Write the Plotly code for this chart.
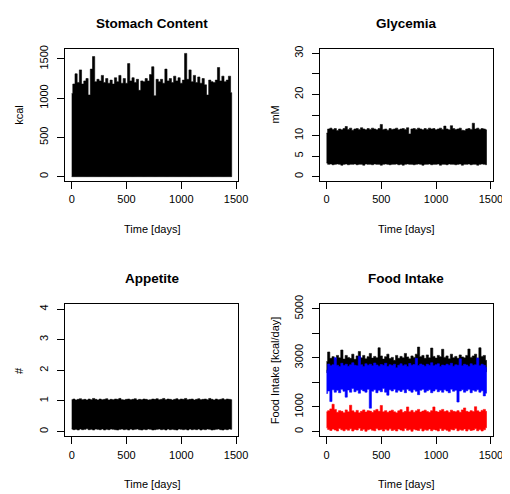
import plotly.graph_objects as go

# ---------------- data (envelopes, 20-day bins) -------------
DAYS = [0, 20, 40, 60, 80, 100, 120, 140, 160, 180, 200, 220, 240, 260, 280, 300, 320, 340,
        360, 380, 400, 420, 440, 460, 480, 500, 520, 540, 560, 580, 600, 620, 640, 660, 680,
        700, 720, 740, 760, 780, 800, 820, 840, 860, 880, 900, 920, 940, 960, 980, 1000,
        1020, 1040, 1060, 1080, 1100, 1120, 1140, 1160, 1180, 1200, 1220, 1240, 1260, 1280,
        1300, 1320, 1340, 1360, 1380, 1400, 1420, 1440, 1460]

STOMACH_HIGH = [1060, 1180, 1310, 1200, 1360, 1180, 1220, 1250, 1040, 1370,
                1530, 1210, 1240, 1220, 1290, 1200, 1250, 1190, 1230, 1180,
                1260, 1210, 1290, 1190, 1250, 1190, 1440, 1220, 1260, 1200,
                1240, 1100, 1220, 1210, 1250, 1220, 1300, 1400, 1030, 1240,
                1210, 1240, 1190, 1370, 1220, 1250, 1200, 1280, 1220, 1260,
                1190, 1230, 1570, 1240, 1360, 1210, 1290, 1200, 1270, 1190,
                1250, 1170, 1040, 1230, 1210, 1200, 1230, 1390, 1220, 1280,
                1210, 1230, 1280, 1070]

GLY_HIGH = [10.6, 11.6, 11.8, 11.5, 11.7, 11.2, 11.6, 11.4, 11.7, 12.2,
            11.5, 11.8, 11.3, 11.6, 11.7, 11.5, 11.9, 11.6, 11.4, 11.7,
            11.5, 11.8, 11.6, 11.4, 11.7, 12.7, 11.5, 11.6, 11.3, 11.7,
            11.5, 11.6, 11.8, 11.4, 11.6, 11.7, 11.5, 11.9, 10.4, 11.6,
            11.7, 11.5, 11.8, 11.6, 11.4, 11.7, 11.5, 11.8, 11.6, 11.7,
            11.4, 11.6, 11.8, 11.5, 12.3, 11.6, 11.4, 12.4, 11.7, 11.5,
            11.6, 11.8, 11.3, 11.2, 11.6, 11.7, 11.5, 13.0, 11.6, 11.8,
            11.5, 11.7, 11.6, 11.4]
GLY_LOW = [3.3, 3.0, 3.1, 2.9, 3.0, 3.1, 3.0, 2.8, 3.0, 3.1,
           2.9, 3.0, 3.0, 3.1, 2.9, 3.0, 3.0, 2.8, 3.1, 3.0,
           3.0, 2.9, 3.1, 3.0, 3.0, 2.8, 3.0, 3.1, 3.0, 2.9,
           3.0, 3.0, 3.1, 2.9, 3.0, 2.8, 3.0, 3.1, 3.0, 3.0,
           2.9, 3.0, 3.1, 3.0, 2.8, 3.0, 3.0, 3.1, 2.9, 3.0,
           3.0, 3.1, 2.8, 3.0, 3.0, 2.9, 3.1, 3.0, 3.0, 2.9,
           3.0, 3.1, 2.8, 3.0, 3.0, 3.1, 2.9, 3.0, 3.0, 2.8,
           3.0, 3.1, 3.0, 2.9]

APP_HIGH = [1.04, 1.06, 1.03, 1.05, 1.07, 1.04, 1.05, 1.03, 1.06, 1.04,
            1.08, 1.05, 1.03, 1.06, 1.04, 1.05, 1.07, 1.03, 1.05, 1.04,
            1.06, 1.05, 1.08, 1.04, 1.03, 1.05, 1.06, 1.04, 1.05, 1.07,
            1.03, 1.05, 1.04, 1.06, 1.05, 1.03, 1.04, 1.06, 1.05, 1.07,
            1.04, 1.05, 1.08, 1.04, 1.06, 1.05, 1.03, 1.05, 1.07, 1.04,
            1.06, 1.05, 1.08, 1.04, 1.05, 1.06, 1.03, 1.05, 1.07, 1.04,
            1.05, 1.06, 1.04, 1.08, 1.05, 1.03, 1.06, 1.04, 1.05, 1.07,
            1.04, 1.06, 1.05, 1.04]
APP_LOW = [0.08, 0.06, 0.07, 0.05, 0.08, 0.06, 0.07, 0.09, 0.06, 0.07,
           0.05, 0.08, 0.07, 0.06, 0.08, 0.05, 0.07, 0.06, 0.08, 0.07,
           0.06, 0.05, 0.07, 0.08, 0.06, 0.07, 0.05, 0.08, 0.06, 0.07,
           0.08, 0.06, 0.05, 0.07, 0.06, 0.08, 0.07, 0.05, 0.06, 0.07,
           0.08, 0.06, 0.07, 0.05, 0.08, 0.06, 0.07, 0.06, 0.05, 0.08,
           0.07, 0.06, 0.07, 0.05, 0.08, 0.06, 0.07, 0.06, 0.08, 0.05,
           0.07, 0.06, 0.08, 0.07, 0.05, 0.06, 0.07, 0.08, 0.06, 0.05,
           0.07, 0.06, 0.08, 0.07]

TOTAL_HIGH = [2850, 3240, 2980, 3050, 2950, 3100, 3000, 3320, 2950, 3100,
              3020, 2980, 3150, 2940, 3080, 3260, 3000, 3100, 2960, 3050,
              3180, 2990, 3060, 3000, 3410, 3080, 2950, 3050, 3150, 2970,
              3020, 2900, 3100, 2980, 3060, 3000, 3180, 3040, 2960, 3080,
              3020, 3150, 3440, 3050, 3100, 2980, 3120, 3000, 3400, 3060,
              2990, 3100, 3050, 3350, 3020, 3080, 2960, 3150, 3000, 3060,
              2980, 3120, 3040, 3000, 3100, 3360, 3020, 3080, 3150, 2990,
              3410, 3060, 3100, 2900]
TOTAL_LOW = [2400, 2450, 2420, 2380, 2460, 2410, 2440, 2390, 2450, 2420,
             2400, 2460, 2430, 2380, 2440, 2410, 2450, 2400, 2430, 2460,
             2390, 2420, 2450, 2410, 2440, 2380, 2430, 2460, 2400, 2420,
             2450, 2390, 2430, 2410, 2460, 2400, 2440, 2420, 2380, 2450,
             2410, 2430, 2460, 2400, 2420, 2450, 2390, 2440, 2410, 2430,
             2460, 2400, 2420, 2450, 2380, 2440, 2410, 2430, 2460, 2400,
             2420, 2450, 2390, 2440, 2410, 2430, 2460, 2400, 2420, 2450,
             2380, 2440, 2410, 2430]
BLUE_HIGH = [2500, 2750, 2680, 2720, 3010, 2700, 2650, 2780, 2690, 2740,
             2660, 2720, 2800, 2700, 2680, 3070, 2720, 2650, 2760, 2700,
             2740, 2680, 2790, 2710, 2660, 2730, 2700, 2780, 2650, 2720,
             2690, 2740, 2600, 2700, 2760, 2680, 2720, 2650, 2770, 2700,
             2730, 2980, 2690, 2750, 2710, 2660, 2740, 2700, 2800, 2680,
             2720, 2760, 2650, 2710, 2690, 2740, 2700, 2780, 2660, 2720,
             2700, 2960, 2680, 2740, 2710, 2650, 2760, 2700, 2720, 2990,
             2680, 2740, 2700, 2620]
BLUE_LOW = [1550, 1650, 1220, 1700, 1600, 1680, 1580, 1720, 1640, 1400,
            1690, 1600, 1750, 1620, 1680, 1560, 1700, 1650, 1600, 1720,
            950, 1640, 1700, 1580, 1680, 1620, 1750, 1600, 1480, 1700,
            1650, 1720, 1600, 1680, 1630, 1700, 1580, 1720, 1660, 1600,
            1700, 1640, 1500, 1680, 1720, 1600, 1660, 1700, 1580, 1650,
            1720, 1620, 1680, 1600, 1700, 1650, 1580, 1720, 1640, 1680,
            1200, 1650, 1700, 1600, 1660, 1720, 1580, 1680, 1640, 1700,
            1600, 1660, 1450, 1560]
RED_HIGH = [800, 850, 920, 1110, 900, 780, 850, 820, 760, 880,
            800, 1070, 840, 780, 860, 760, 820, 880, 790, 850,
            830, 780, 860, 900, 820, 1060, 800, 850, 780, 830,
            870, 800, 760, 840, 890, 780, 820, 1000, 800, 860,
            780, 840, 900, 790, 830, 870, 810, 780, 850, 1000,
            820, 790, 860, 900, 810, 840, 780, 870, 820, 800,
            850, 780, 880, 960, 820, 790, 850, 810, 1010, 840,
            790, 860, 900, 820]
RED_LOW = [150, 80, 40, 100, 60, 20, 120, 70, 30, 90,
           50, 110, 20, 80, 60, 130, 40, 90, 10, 70,
           100, 50, 30, 120, 60, 80, 20, 90, 50, 110,
           40, 70, 20, 100, 60, 30, 120, 50, 80, 10,
           90, 60, 40, 110, 20, 70, 50, 100, 30, 80,
           60, 20, 110, 40, 90, 50, 10, 80, 60, 120,
           30, 70, 50, 100, 20, 90, 40, 60, 110, 30,
           80, 20, 70, 150]

X_TICKS = [0, 500, 1000, 1500]
STOMACH_TICKS = [0, 500, 1000, 1500]
GLY_TICKS = [0, 5, 10, 15, 20, 25, 30]
GLY_TICKTEXT = ["0", "5", "10", "", "20", "", "30"]
APP_TICKS = [0, 1, 2, 3, 4]
FOOD_TICKS = [0, 1000, 2000, 3000, 4000, 5000]
FOOD_TICKTEXT = ["0", "1000", "", "3000", "", "5000"]

FONT = "Liberation Sans, Arial, sans-serif"
PAGE_W, PAGE_H = 510, 494
OFF = 8                      # default body margin of the html page
W, H = PAGE_W - OFF, PAGE_H - OFF


def band(low, high, color, xa, ya):
    xs = DAYS + DAYS[::-1]
    ys = list(high) + list(low)[::-1]
    return go.Scatter(x=xs, y=ys, mode="lines", fill="toself", fillcolor=color,
                      line=dict(color=color, width=0.6, shape="hvh"),
                      xaxis=xa, yaxis=ya, showlegend=False, hoverinfo="skip")


fig = go.Figure()
fig.add_trace(band([0] * len(STOMACH_HIGH), STOMACH_HIGH, "black", "x", "y"))
fig.add_trace(band(GLY_LOW, GLY_HIGH, "black", "x2", "y2"))
fig.add_trace(band(APP_LOW, APP_HIGH, "black", "x3", "y3"))
fig.add_trace(band(TOTAL_LOW, TOTAL_HIGH, "black", "x4", "y4"))
fig.add_trace(band(BLUE_LOW, BLUE_HIGH, "blue", "x4", "y4"))
fig.add_trace(band(RED_LOW, RED_HIGH, "red", "x4", "y4"))

# panel boxes in page pixels
LEFT_X = (66.5, 242.5)
RIGHT_X = (326.5, 502.5)
TOP_Y = (40.7, 175.0)
BOT_Y = (300.3, 435.3)


def xdom(px):
    return [(px[0] - OFF) / W, (px[1] - OFF) / W]


def ydom(py):
    return [1 - (py[1] - OFF) / H, 1 - (py[0] - OFF) / H]


common = dict(showgrid=False, zeroline=False, showline=True, mirror=True,
              linecolor="black", linewidth=1, ticks="outside", ticklen=7,
              tickcolor="black", tickwidth=1,
              tickfont=dict(family=FONT, size=11, color="black"))

XR = [-58, 1516]
xcommon = dict(common, range=XR, tickvals=X_TICKS, ticklabelstandoff=1)
ycommon = dict(common, tickangle=-90, ticklabelstandoff=5)

fig.update_layout(
    width=W, height=H, margin=dict(l=0, r=0, t=0, b=0),
    paper_bgcolor="white", plot_bgcolor="white",
    showlegend=False,
    font=dict(family=FONT, size=11, color="black"),
    xaxis=dict(xcommon, domain=xdom(LEFT_X), anchor="y"),
    yaxis=dict(ycommon, domain=ydom(TOP_Y), anchor="x", range=[-54, 1625],
               tickvals=STOMACH_TICKS),
    xaxis2=dict(xcommon, domain=xdom(RIGHT_X), anchor="y2"),
    yaxis2=dict(ycommon, domain=ydom(TOP_Y), anchor="x2", range=[-1.03, 31.03],
                tickvals=GLY_TICKS, ticktext=GLY_TICKTEXT),
    xaxis3=dict(xcommon, domain=xdom(LEFT_X), anchor="y3"),
    yaxis3=dict(ycommon, domain=ydom(BOT_Y), anchor="x3", range=[-0.16, 4.17],
                tickvals=APP_TICKS),
    xaxis4=dict(xcommon, domain=xdom(RIGHT_X), anchor="y4"),
    yaxis4=dict(ycommon, domain=ydom(BOT_Y), anchor="x4", range=[-200, 5200],
                tickvals=FOOD_TICKS, ticktext=FOOD_TICKTEXT),
)

ann = []


def txt(x, y, s, size=11, bold=False, angle=0):
    ann.append(dict(x=(x - OFF) / W, y=1 - (y - OFF) / H, xref="paper", yref="paper",
                    text=f"<b>{s}</b>" if bold else s,
                    showarrow=False, xanchor="center", yanchor="middle", textangle=angle,
                    font=dict(family=FONT, size=size, color="black")))


cxL = (LEFT_X[0] + LEFT_X[1]) / 2
cxR = (RIGHT_X[0] + RIGHT_X[1]) / 2
cyT = (TOP_Y[0] + TOP_Y[1]) / 2
cyB = (BOT_Y[0] + BOT_Y[1]) / 2

txt(cxL, 14.5, "Stomach Content", 13.5, True)
txt(cxR, 14.5, "Glycemia", 13.5, True)
txt(cxL, 274, "Appetite", 13.5, True)
txt(cxR, 274, "Food Intake", 13.5, True)
txt(cxL, 224, "Time [days]")
txt(cxR, 224, "Time [days]")
txt(cxL, 484, "Time [days]")
txt(cxR, 484, "Time [days]")
txt(19, cyT, "kcal", angle=-90)
txt(280, cyT, "mM", angle=-90)
txt(19, cyB, "#", angle=-90)
txt(280.5, cyB, "Food Intake [kcal/day]", angle=-90)

fig.update_layout(annotations=ann)
fig.write_html("out.html")
